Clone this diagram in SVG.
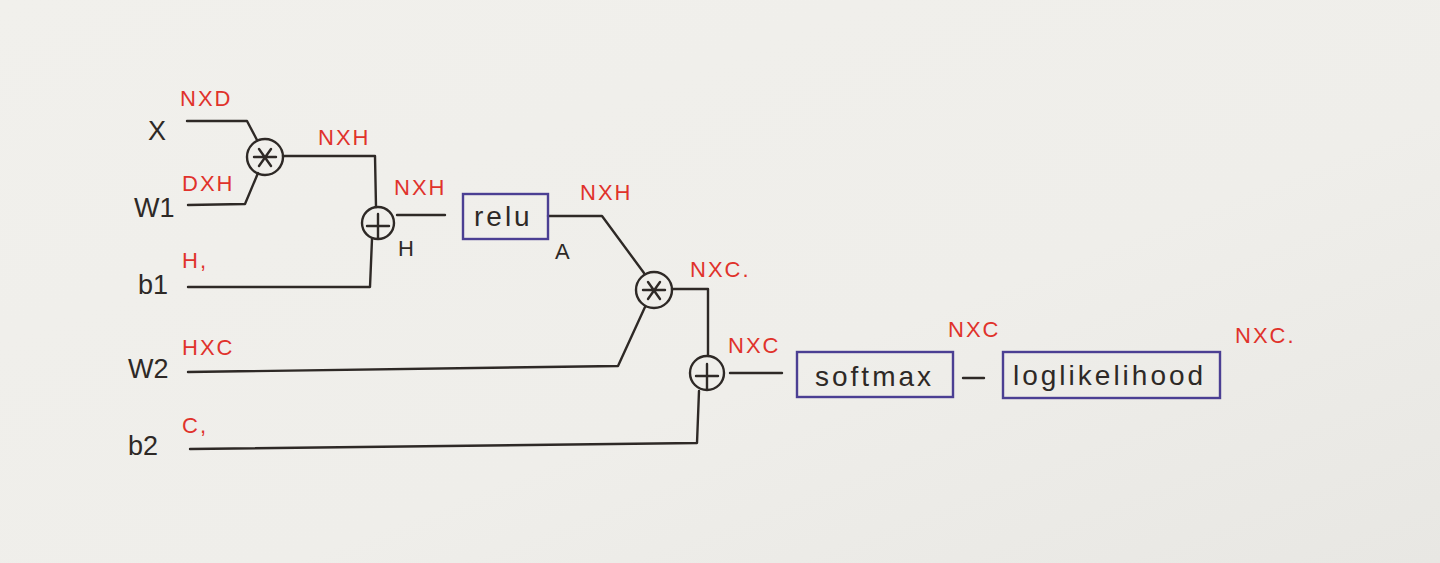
<svg xmlns="http://www.w3.org/2000/svg" width="1440" height="563" viewBox="0 0 1440 563">
  <defs>
    <linearGradient id="paper" x1="0" y1="0" x2="1" y2="1">
      <stop offset="0" stop-color="#f1f0ec"/>
      <stop offset="0.6" stop-color="#efeeea"/>
      <stop offset="1" stop-color="#e8e7e3"/>
    </linearGradient>
  </defs>
  <style>
    .ink { fill: none; stroke: #2e2926; stroke-width: 2.4; stroke-linecap: round; stroke-linejoin: round; }
    .box { fill: none; stroke: #4b3f93; stroke-width: 2.4; }
    .op { fill: none; stroke: #2e2926; stroke-width: 2.4; }
    .name { font-family: "Liberation Sans", Arial, sans-serif; font-size: 27px; fill: #2e2926; }
    .dim { font-family: "Liberation Sans", Arial, sans-serif; font-size: 22px; fill: #e0322b; letter-spacing: 2px; }
    .fn { font-family: "Liberation Sans", Arial, sans-serif; font-size: 28px; fill: #2e2926; letter-spacing: 3px; }
    .small { font-family: "Liberation Sans", Arial, sans-serif; font-size: 22px; fill: #2e2926; }
  </style>

  <rect width="1440" height="563" fill="url(#paper)"/>

  <!-- wires between inputs, operators and functions -->
  <g id="connectors">
    <polyline class="ink" points="187,121 247,121 257,140"/>
    <polyline class="ink" points="188,205 245,204 258,173"/>
    <polyline class="ink" points="283,156 375,156 376,207"/>
    <polyline class="ink" points="188,287 370,287 372,239"/>
    <line class="ink" x1="397" y1="215" x2="445" y2="215"/>
    <polyline class="ink" points="548,216 602,216 644,273"/>
    <polyline class="ink" points="188,372 618,366 645,307"/>
    <polyline class="ink" points="672,289 708,289 708,355"/>
    <polyline class="ink" points="190,449 697,443 699,391"/>
    <line class="ink" x1="730" y1="373" x2="782" y2="373"/>
    <line class="ink" x1="963" y1="378" x2="984" y2="378"/>
  </g>

  <!-- inputs -->
  <g id="input-x">
    <text class="name" x="148" y="140">X</text>
    <text class="dim" x="180" y="106">NXD</text>
  </g>
  <g id="input-w1">
    <text class="name" x="134" y="217">W1</text>
    <text class="dim" x="182" y="191">DXH</text>
  </g>
  <g id="input-b1">
    <text class="name" x="138" y="294">b1</text>
    <text class="dim" x="182" y="268">H,</text>
  </g>
  <g id="input-w2">
    <text class="name" x="128" y="378">W2</text>
    <text class="dim" x="182" y="355">HXC</text>
  </g>
  <g id="input-b2">
    <text class="name" x="128" y="455">b2</text>
    <text class="dim" x="182" y="433">C,</text>
  </g>

  <!-- first matrix product -->
  <g id="mul1">
    <circle class="op" cx="265" cy="157" r="18"/>
    <path class="ink" d="M254,157 H276 M259,149 L271,166 M271,149 L259,166"/>
    <text class="dim" x="318" y="145">NXH</text>
  </g>

  <!-- first bias add -->
  <g id="add1">
    <circle class="op" cx="378" cy="223" r="16"/>
    <path class="ink" d="M367,226 H389 M378,214 V238"/>
    <text class="dim" x="394" y="195">NXH</text>
    <text class="small" x="398" y="256">H</text>
  </g>

  <!-- relu -->
  <g id="relu">
    <rect class="box" x="463" y="194" width="85" height="45"/>
    <text class="fn" x="474" y="226">relu</text>
    <text class="small" x="555" y="259">A</text>
    <text class="dim" x="580" y="200">NXH</text>
  </g>

  <!-- second matrix product -->
  <g id="mul2">
    <circle class="op" cx="654" cy="290" r="18"/>
    <path class="ink" d="M643,290 H665 M648,282 L660,299 M660,282 L648,299"/>
    <text class="dim" x="690" y="277">NXC.</text>
  </g>

  <!-- second bias add -->
  <g id="add2">
    <circle class="op" cx="707" cy="373" r="17"/>
    <path class="ink" d="M696,376 H718 M707,364 V389"/>
    <text class="dim" x="728" y="353">NXC</text>
  </g>

  <!-- softmax -->
  <g id="softmax">
    <rect class="box" x="797" y="352" width="156" height="45"/>
    <text class="fn" x="815" y="386">softmax</text>
    <text class="dim" x="948" y="337">NXC</text>
  </g>

  <!-- log likelihood -->
  <g id="loglikelihood">
    <rect class="box" x="1003" y="352" width="217" height="46"/>
    <text class="fn" x="1013" y="385">loglikelihood</text>
    <text class="dim" x="1235" y="343">NXC.</text>
  </g>
</svg>
